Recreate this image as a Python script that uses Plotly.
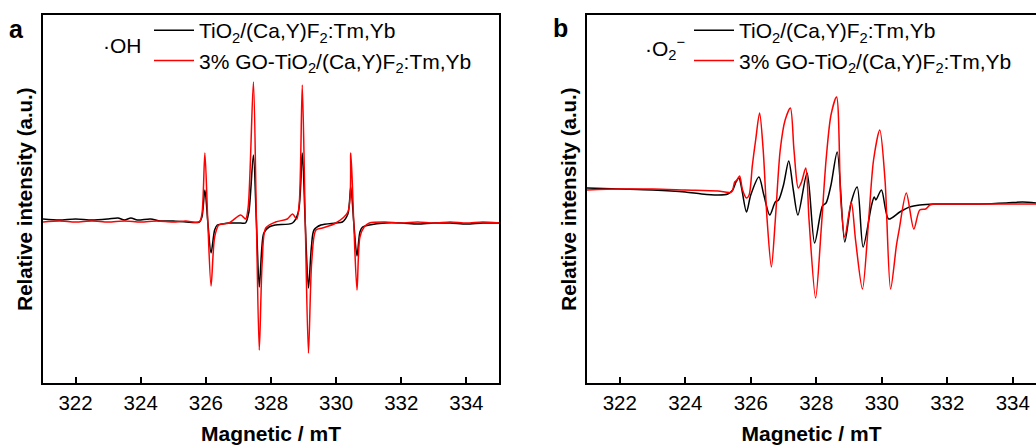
import plotly.graph_objects as go
from plotly.subplots import make_subplots

# ---------------- Panel a : DMPO-·OH ----------------
a_black_x = [321.0, 321.5, 322.0, 322.5, 323.0, 323.3, 323.5, 323.7, 323.9, 324.3, 324.6, 325.0, 325.4, 325.8,
             325.88, 325.97, 326.06, 326.16, 326.27, 326.35, 326.5, 326.71, 327.07, 327.22,
             327.32, 327.46, 327.55, 327.64, 327.72, 327.78, 327.94, 328.14, 328.66,
             328.84, 328.96, 329.05, 329.15, 329.24, 329.32, 329.53, 329.99, 330.19,
             330.36, 330.45, 330.54, 330.64, 330.73, 330.81, 331.02,
             331.5, 332.0, 332.5, 333.0, 333.5, 334.0, 334.5, 335.0]
a_black_y = [3, 2, 3, 2, 3, 4, 2, 4, 2, 3, 1, 1, 0, 0,
             5, 32, 0, -31, -8, -3, -2, -1, -1, -1,
             10, 67, 2, -65, -25, -11, -5, -3, -1,
             10, 69, 0, -66, -25, -8, -3, -1, 0,
             8, 35, 0, -34, -10, -5, -3,
             -1, -1, -2, -1, -1, -2, -1, -1]

a_red_x = [321.0, 321.5, 322.0, 322.5, 323.0, 323.5, 324.0, 324.5, 325.0, 325.38, 325.8,
           325.88, 325.97, 326.06, 326.16, 326.27, 326.40, 326.71, 327.07, 327.22,
           327.30, 327.46, 327.55, 327.64, 327.73, 327.84, 328.14, 328.5, 328.66, 328.79,
           328.87, 328.96, 329.05, 329.15, 329.25, 329.38, 329.58, 329.99,
           330.36, 330.45, 330.54, 330.64, 330.73, 330.86, 331.02,
           331.5, 332.0, 332.5, 333.0, 333.5, 334.0, 334.5, 335.0]
a_red_y = [0, 1, 0, 1, 0, 1, 0, 1, 0, 1, 0,
           8, 69, 0, -64, -15, -3, -1, 7, 3,
           15, 140, 5, -128, -40, -6, 0, 3, 8, 3,
           20, 137, 3, -131, -40, -8, -6, -1,
           10, 69, 0, -68, -15, -5, -1,
           0, -1, 0, -1, 0, -1, 0, -1]

# ---------------- Panel b : DMPO-·O2- ----------------
b_black_x = [321.0, 322.0, 323.0, 324.0, 324.5, 325.0, 325.3, 325.45, 325.55, 325.64, 325.72, 325.87,
             326.0, 326.25, 326.4, 326.58, 326.75, 326.85, 327.0, 327.16, 327.3, 327.44,
             327.72, 327.95, 328.19, 328.3, 328.45, 328.64, 328.87, 329.07, 329.25, 329.43,
             329.69, 329.77, 329.82, 329.99, 330.21, 330.55, 330.85, 331.16, 331.6, 332.0,
             333.0, 333.8, 334.3, 334.71]
b_black_y = [12, 11, 10, 8, 6, 5, 6, 10, 18, 22, 12, -12,
             5, 23, 5, -15, -2, 0, 15, 39, 10, -15,
             27, -43, -6, -3, 15, 48, -42, -2, 13, -47,
             -5, 3, 0, 10, -19, -12, -7, -5, -4, -4,
             -4, -3, -2, -3]

b_red_x = [321.0, 322.0, 323.0, 324.0, 325.0, 325.41, 325.51, 325.58, 325.66, 325.75, 325.87,
           325.95, 326.05, 326.15, 326.27, 326.38, 326.5, 326.63, 326.75, 326.9, 327.05, 327.21,
           327.32, 327.45, 327.55, 327.68, 327.78, 327.98, 328.15, 328.3, 328.45, 328.62,
           328.75, 328.87, 329.07, 329.2, 329.41, 329.6, 329.75, 329.94, 330.1, 330.27,
           330.45, 330.53, 330.75, 330.98, 331.16, 331.34, 331.47, 331.6, 332.0, 333.0, 334.0, 334.71]
b_red_y = [10, 11, 11, 10, 9, 8, 18, 20, 24, 10, 2,
           5, 35, 60, 87, 50, -20, -67, -20, 50, 80, 92,
           50, 12, 18, 32, -20, -98, -30, 40, 85, 103,
           0, -37, -2, -40, -89, -20, 40, 70, 20, -89,
           -45, -30, 7, -29, -10, -9, -5, -4, -4, -4, -4, -4]

x_ticks = [322, 324, 326, 328, 330, 332, 334]
name_black = "TiO<sub>2</sub>/(Ca,Y)F<sub>2</sub>:Tm,Yb"
name_red = "3% GO-TiO<sub>2</sub>/(Ca,Y)F<sub>2</sub>:Tm,Yb"

FONT = "Liberation Sans, Arial, sans-serif"
W, H = 1036, 446
T, B = 15, 63
PH = H - T - B


def py(p):
    """pixel row -> paper y"""
    return 1 - (p - T) / PH


fig = make_subplots(rows=1, cols=2)
line_kw = dict(width=1.5)
fig.add_trace(go.Scatter(x=a_black_x, y=a_black_y, mode="lines", name=name_black,
                         line=dict(color="#000000", shape="spline", smoothing=0.8, **line_kw),
                         legend="legend"), row=1, col=1)
fig.add_trace(go.Scatter(x=a_red_x, y=a_red_y, mode="lines", name=name_red,
                         line=dict(color="#ff0000", shape="spline", smoothing=0.8, **line_kw),
                         legend="legend"), row=1, col=1)
fig.add_trace(go.Scatter(x=b_black_x, y=b_black_y, mode="lines", name=name_black,
                         line=dict(color="#000000", shape="spline", smoothing=0.8, **line_kw),
                         legend="legend2"), row=1, col=2)
fig.add_trace(go.Scatter(x=b_red_x, y=b_red_y, mode="lines", name=name_red,
                         line=dict(color="#ff0000", shape="spline", smoothing=0.8, **line_kw),
                         legend="legend2"), row=1, col=2)

xax = dict(tickmode="array", tickvals=x_ticks, ticks="inside", ticklen=6, tickwidth=2,
           tickcolor="black", showline=True, linecolor="black", linewidth=2, mirror=True,
           showgrid=False, zeroline=False, tickfont=dict(family=FONT, size=20.5, color="black"),
           title=dict(text="Magnetic / mT", font=dict(family=FONT, size=21, color="black", weight="bold"),
                      standoff=14))
yax = dict(showticklabels=False, ticks="", showline=True, linecolor="black", linewidth=2,
           showgrid=False, zeroline=False,
           title=dict(text="Relative intensity (a.u.)",
                      font=dict(family=FONT, size=20.5, color="black", weight="bold"), standoff=3))

leg = dict(yanchor="top", xanchor="left", xref="paper", yref="paper",
           bgcolor="rgba(0,0,0,0)", font=dict(family=FONT, size=21, color="black"),
           itemwidth=40, tracegroupgap=0)

fig.update_layout(
    width=W, height=H, margin=dict(l=0, r=0, t=T, b=B),
    paper_bgcolor="white", plot_bgcolor="white",
    font=dict(family=FONT, color="black"),
    xaxis=dict(xax, domain=[43 / W, 499 / W], range=[321, 335]),
    xaxis2=dict(xax, domain=[587 / W, 1.0], range=[321, 334.71]),
    yaxis=dict(yax, range=[-161, 207], mirror=True),
    yaxis2=dict(yax, range=[-183, 185], mirror=False),
    legend=dict(leg, x=149 / W, y=py(10)),
    legend2=dict(leg, x=689 / W, y=py(10)),
    showlegend=True,
)

ann = dict(xref="paper", yref="paper", showarrow=False, xanchor="center", yanchor="middle")
fig.add_annotation(ann, text="a", x=16 / W, y=py(29),
                   font=dict(family=FONT, size=25, color="black", weight="bold"))
fig.add_annotation(ann, text="b", x=560 / W, y=py(28),
                   font=dict(family=FONT, size=25, color="black", weight="bold"))
fig.add_annotation(ann, text="·OH", x=122 / W, y=py(45),
                   font=dict(family=FONT, size=21, color="black"))
fig.add_annotation(ann, text="·O<sub>2</sub><sup>−</sup>", x=665 / W, y=py(48),
                   font=dict(family=FONT, size=21, color="black"))

fig.write_html("out.html")
